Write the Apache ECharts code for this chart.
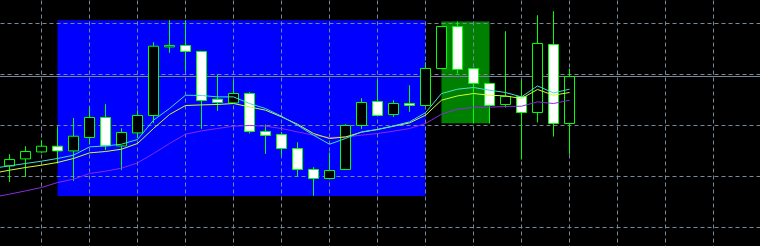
<!DOCTYPE html>
<html><head><meta charset="utf-8">
<script src="https://cdn.jsdelivr.net/npm/echarts@6/dist/echarts.min.js"></script>
<style>html,body{margin:0;padding:0;background:#000;overflow:hidden}#c{width:760px;height:246px}</style>
</head><body><div id="c"></div>
<script>
// Bar times (index 0 = bar before the first visible candle; trailing entries = empty future space)
const categories = [
 '13 08:00','13 09:00','13 10:00','13 11:00','13 12:00','13 13:00','13 14:00','13 15:00',
 '13 16:00','13 17:00','13 18:00','13 19:00','13 20:00','13 21:00','13 22:00','13 23:00',
 '14 00:00','14 01:00','14 02:00','14 03:00','14 04:00','14 05:00','14 06:00','14 07:00',
 '14 08:00','14 09:00','14 10:00','14 11:00','14 12:00','14 13:00','14 14:00','14 15:00',
 '14 16:00','14 17:00','14 18:00','14 19:00','14 20:00','14 21:00','14 22:00','14 23:00',
 '15 00:00','15 01:00','15 02:00','15 03:00','15 04:00','15 05:00','15 06:00','15 07:00','15 08:00'
];
const firstBar = 1; // category index of the first visible candle

const opens  = [112.08,113.45,114.82,115.94,115.02,117.65,121.57,116.00,118.55,121.96,135.41,135.69,134.51,125.16,124.43,126.27,118.82,118.24,115.49,111.37,109.61,111.37,120.00,124.71,122.16,124.31,123.92,131.18,139.41,131.18,128.24,124.12,125.69,122.55,135.88,120.39];
const closes = [113.33,114.90,115.94,115.02,117.90,121.57,116.00,118.63,121.96,135.55,135.69,134.51,124.90,124.51,126.27,118.82,118.04,115.49,111.37,109.61,111.18,120.00,124.51,121.96,124.31,123.92,131.18,139.41,130.98,128.24,123.92,125.69,122.55,136.08,120.39,129.61];
const lows   = [108.94,109.92,114.57,112.55,109.14,116.33,115.16,111.24,117.51,120.45,134.24,130.71,119.33,122.86,124.43,118.43,114.43,114.04,109.92,106.20,109.61,111.37,119.33,121.96,121.69,122.67,123.92,131.18,130.20,120.45,120.39,123.53,113.33,120.59,117.84,114.31];
const highs  = [114.37,115.94,117.12,119.86,121.49,123.65,124.18,119.47,123.00,136.33,140.65,140.65,134.51,130.06,128.88,126.53,120.20,118.75,116.73,111.82,114.71,120.25,125.35,128.88,124.96,127.90,132.41,139.41,140.39,131.18,128.24,138.49,128.88,141.63,142.41,131.18];

// Moving averages (first value belongs to the bar before the first visible candle)
const maFast = [111.63,112.08,112.55,113.00,113.53,114.18,115.80,116.00,116.33,117.25,121.04,123.33,125.94,125.88,125.61,125.61,124.31,123.33,121.82,120.06,118.10,116.33,117.45,118.75,119.22,119.92,120.71,122.51,126.27,127.12,127.45,126.92,126.47,125.61,127.76,126.39,127.12];
const maMid  = [110.65,111.24,111.76,112.22,112.75,113.53,114.63,114.90,115.35,116.47,119.41,122.16,123.92,124.04,124.12,124.31,123.65,123.00,121.69,120.25,118.43,117.45,117.76,118.69,119.22,119.86,120.51,122.02,124.96,125.80,126.27,125.94,125.80,125.29,127.06,125.94,126.47];
const maSlow = [105.94,106.53,107.18,107.84,108.82,109.47,110.59,111.04,111.63,112.67,114.51,116.47,118.29,118.94,119.41,119.86,120.00,119.86,119.41,118.75,118.10,117.65,117.76,118.10,118.43,118.88,119.41,120.39,122.22,123.20,123.53,123.59,123.73,123.78,124.63,124.31,124.96];

// Rectangle objects: [startBar, endBar, bottomPrice, topPrice]
const blueBox  = [3, 26, 106.20, 140.65];
const greenBox = [27, 30, 120.45, 140.39];

const candleData = categories.map((c, j) => {
  const i = j - firstBar;
  return (i >= 0 && i < opens.length) ? [opens[i], closes[i], lows[i], highs[i]] : ['-','-','-','-'];
});
const maData = arr => categories.map((c, j) => j < arr.length ? arr[j] : '-');
const lastClose = closes[closes.length - 1];

const gridLine = {show:true, lineStyle:{color:'#778899', width:1, type:[4,3]}};
const chart = echarts.init(document.getElementById('c'), null, {renderer:'canvas'});
chart.setOption({
  backgroundColor:'#000000',
  animation:false,
  grid:{left:-6.5, right:-1.5, top:-27.5, bottom:-32.5, containLabel:false, outerBoundsMode:'none'},
  xAxis:{type:'category', data:categories, boundaryGap:false, z:1.5,
    axisLine:{show:false}, axisTick:{show:false}, axisLabel:{show:false},
    splitLine:Object.assign({interval:(i)=> i % 3 === 0}, gridLine)},
  yAxis:{type:'value', min:90, max:150, interval:10, z:1.5,
    axisLine:{show:false}, axisTick:{show:false}, axisLabel:{show:false},
    splitLine:gridLine},
  series:[
    {type:'candlestick', data:candleData, barWidth:10, z:2,
     itemStyle:{color:'#000000', color0:'#ffffff', borderColor:'#00ff00', borderColor0:'#00ff00', borderWidth:1},
     markArea:{silent:true, z:1, data:[
       [{xAxis:blueBox[0]+firstBar, yAxis:blueBox[3], itemStyle:{color:'#0000ff', opacity:1}}, {xAxis:blueBox[1]+firstBar, yAxis:blueBox[2]}],
       [{xAxis:greenBox[0]+firstBar, yAxis:greenBox[3], itemStyle:{color:'#008000', opacity:1}}, {xAxis:greenBox[1]+firstBar, yAxis:greenBox[2]}]
     ]},
     markLine:{silent:true, z:1.6, symbol:'none', label:{show:false},
       lineStyle:{color:'#778899', type:'solid', width:1}, data:[{yAxis:lastClose}]}
    },
    {type:'line', data:maData(maSlow), symbol:'none', z:3, lineStyle:{color:'#8a2be2', width:1}},
    {type:'line', data:maData(maMid),  symbol:'none', z:3, lineStyle:{color:'#ccff33', width:1}},
    {type:'line', data:maData(maFast), symbol:'none', z:3, lineStyle:{color:'#40e0d0', width:1}}
  ]
});
</script></body></html>
